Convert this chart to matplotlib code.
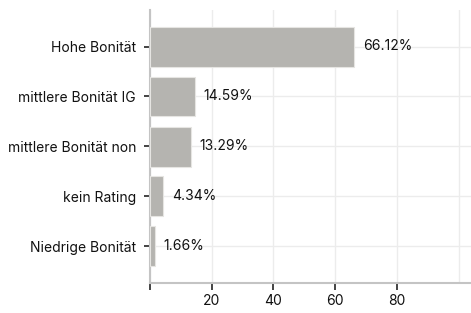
import matplotlib.pyplot as plt
import numpy as np

# data
categories = ['Hohe Bonität', 'mittlere Bonität IG', 'mittlere Bonität non',
              'kein Rating', 'Niedrige Bonität']
values = [66.12, 14.59, 13.29, 4.34, 1.66]

plt.rcParams['font.family'] = ['Inter', 'DejaVu Sans']

fig = plt.figure(figsize=(4.71, 3.13), dpi=100)
ax = fig.add_axes([150 / 471, 30 / 313, 321 / 471, 273 / 313])

y = np.arange(len(categories))
bars = ax.barh(y, values, height=0.8, color='#b5b4b0', edgecolor='#e6e5e2',
               linewidth=0.8, zorder=3)

for bar, v in zip(bars, values):
    ax.text(bar.get_width() + 2.8, bar.get_y() + bar.get_height() / 2,
            f'{v:.2f}%', va='center', ha='left', fontsize=10, color='#111111')

ax.set_ylim(len(categories) - 1 + 0.73, -0.73)
ax.set_xlim(0, 104)
ax.set_yticks(y)
ax.set_yticklabels(categories, fontsize=10, color='#111111')
ax.set_xticks([0, 20, 40, 60, 80])
ax.set_xticklabels(['', '20', '40', '60', '80'], fontsize=10, color='#111111')
ax.set_xticks([100], minor=True)
ax.tick_params(axis='x', which='minor', length=0)
ax.tick_params(axis='y', length=4, width=1.2, color='#222222', pad=6)
ax.tick_params(axis='x', length=5, width=1.2, color='#222222', pad=3)

ax.grid(True, which='both', color='#ececec', linewidth=1, zorder=0)
ax.set_axisbelow(True)

for s in ['top', 'right']:
    ax.spines[s].set_visible(False)
for s in ['left', 'bottom']:
    ax.spines[s].set_color('#c4c4c4')
    ax.spines[s].set_linewidth(1.5)

fig.savefig('out.png', dpi=100)
